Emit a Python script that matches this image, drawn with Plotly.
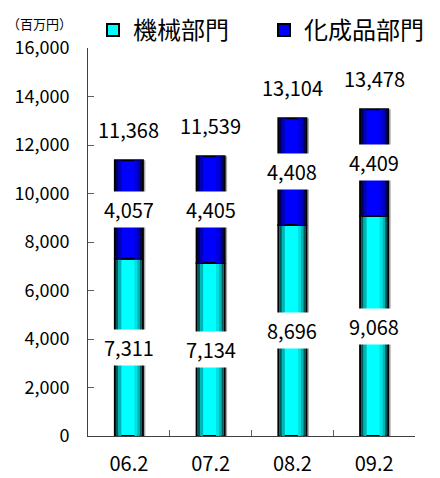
import plotly.graph_objects as go

categories = ["06.2", "07.2", "08.2", "09.2"]
mech = [7311, 7134, 8696, 9068]        # 機械部門
chem = [4057, 4405, 4408, 4409]        # 化成品部門
totals = [11368, 11539, 13104, 13478]
y_ticks = [0, 2000, 4000, 6000, 8000, 10000, 12000, 14000, 16000]

FONT = "Noto Sans CJK JP"
W, H = 432, 470         # page adds an 8px body margin
PX = 327 / 4.0          # pixels per category unit
BW = 28 / PX            # bar width in category units

cyan_cols = {"bright": "#00ffff", "dark": "#005c5c", "mid": "#00b4b4", "light": "#00e0e0"}
blue_cols = {"bright": "#0000ff", "dark": "#00005c", "mid": "#0000b4", "light": "#0000e0"}
strips = [(1, 2.5, "dark"), (3.5, 3, "mid"), (19.5, 3, "light"), (22.5, 2.5, "mid"), (25, 2, "dark")]

fig = go.Figure()


def add_series(name, vals, base, cols, legend):
    fig.add_trace(go.Bar(x=categories, y=vals, base=base, width=BW,
                         offset=-BW / 2 + 2.5 / PX, marker=dict(color="#a8a8a8", line=dict(width=0)),
                         showlegend=False, hoverinfo="skip"))
    fig.add_trace(go.Bar(x=categories, y=vals, base=base, width=BW, offset=-BW / 2, name=name,
                         marker=dict(color=cols["bright"], line=dict(color="black", width=2)),
                         legend=legend, hoverinfo="skip"))
    for s, l, c in strips:
        fig.add_trace(go.Bar(x=categories, y=vals, base=base, width=l / PX,
                             offset=-BW / 2 + s / PX,
                             marker=dict(color=cols[c], line=dict(width=0)),
                             showlegend=False, hoverinfo="skip"))


add_series("機械部門", mech, [0] * len(mech), cyan_cols, "legend")
add_series("化成品部門", chem, mech, blue_cols, "legend2")

ann = []
lab_font = dict(size=20, color="black", family=FONT)
for i, c in enumerate(categories):
    ann.append(dict(x=i, y=mech[i] / 2, text=f"{mech[i]:,}", showarrow=False,
                    bgcolor="white", borderpad=3, font=lab_font))
    ann.append(dict(x=i, y=mech[i] + chem[i] / 2, text=f"{chem[i]:,}", showarrow=False,
                    bgcolor="white", borderpad=3, font=lab_font))
    ann.append(dict(x=i, y=mech[i] + chem[i], text=f"{totals[i]:,}", showarrow=False,
                    yshift=31, font=lab_font))
ann.append(dict(xref="paper", yref="paper", x=-0.254, y=1.064, xanchor="left", yanchor="middle",
                text="（百万円）", showarrow=False, font=dict(size=13, color="black", family=FONT)))

leg_common = dict(orientation="h", xref="container", yref="container", y=1,
                  xanchor="left", yanchor="top", font=dict(size=24, family=FONT),
                  itemclick=False, itemdoubleclick=False, bgcolor="rgba(0,0,0,0)")

fig.update_layout(
    width=W, height=H,
    margin=dict(l=80, r=25, t=40, b=42, autoexpand=False),
    paper_bgcolor="white", plot_bgcolor="white",
    barmode="overlay",
    font=dict(family=FONT, color="black"),
    showlegend=True,
    legend=dict(x=85 / W, **leg_common),
    legend2=dict(x=256 / W, **leg_common),
    annotations=ann,
    xaxis=dict(type="category", range=[-0.5, 3.5], showline=True, linecolor="#404040", linewidth=1,
               ticks="inside", tickson="boundaries", ticklen=6, tickcolor="#606060",
               tickfont=dict(size=20, family=FONT), ticklabelstandoff=10, showgrid=False, fixedrange=True),
    yaxis=dict(range=[0, 16000], tickvals=y_ticks, tickformat=",", showline=True, linecolor="#404040",
               linewidth=1, ticks="inside", ticklen=6, tickcolor="#606060",
               tickfont=dict(size=18, family=FONT), ticklabelstandoff=14, showgrid=False,
               zeroline=False, fixedrange=True),
)

fig.write_html("out.html")
